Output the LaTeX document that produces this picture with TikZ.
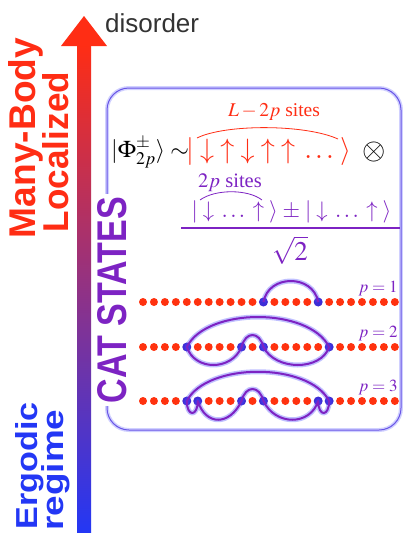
\documentclass[tikz,border=0pt]{standalone}
\usepackage{mathptmx}
\usepackage{fontspec}
\setmainfont{Liberation Serif}
\setsansfont{Liberation Sans}
\usepackage{graphicx}
\definecolor{redc}{RGB}{255,45,20}
\definecolor{purp}{RGB}{125,35,195}
\definecolor{bluec}{RGB}{35,55,245}
\definecolor{dotred}{RGB}{255,50,15}
\definecolor{dotblue}{RGB}{60,45,215}
\definecolor{arrmid}{RGB}{140,25,180}
\definecolor{boxc}{RGB}{105,85,230}
\tikzset{
  dot/.style={circle,inner sep=0pt,minimum size=8pt,fill=dotred},
  bdot/.style={circle,inner sep=0pt,minimum size=9pt,fill=dotblue},
  glow/.style={line width=5pt,draw=blue!70!white,opacity=0.35,line join=round},
  loopline/.style={line width=2pt,draw=purp,line join=round},
  plab/.style={text=purp,font=\fontsize{17}{20}\selectfont},
  bigtext/.style={rotate=90,anchor=base,inner sep=0pt,font=\bfseries\sffamily},
}
\begin{document}
\begin{tikzpicture}[x=1pt,y=-1pt]
\useasboundingbox (0,0) rectangle (403,533);
\fill[white] (0,0) rectangle (403,533);
% arrow
\shade[top color=redc, middle color=arrmid, bottom color=bluec] (77,44) rectangle (91,533);
\fill[redc] (61,46) -- (84,16) -- (107,46) -- cycle;
\node[anchor=base west, inner sep=0pt, text=black!80, font=\sffamily\fontsize{26}{30}\selectfont] (dis) at (105,32) {disorder};
% side labels
\node[bigtext, text=redc] (mb) at (35,138) {\resizebox{200pt}{27pt}{Many-Body}};
\node[bigtext, text=redc] (loc) at (68,152) {\resizebox{160pt}{26pt}{Localized}};
\node[bigtext, text=bluec] (erg) at (37,466) {\resizebox{127pt}{22pt}{Ergodic}};
\node[bigtext, text=bluec] (reg) at (63,470) {\resizebox{121pt}{22pt}{regime}};
% box
\draw[line width=4pt, draw=blue!60!white, opacity=0.3, rounded corners=22pt] (107,88) rectangle (401,430);
\draw[line width=1pt, draw=boxc, rounded corners=22pt] (107,88) rectangle (401,430);
\node[rotate=90, fill=white, inner sep=3pt, text=purp, font=\bfseries\sffamily] (cat) at (112.5,300) {\resizebox{206pt}{29pt}{CAT STATES}};
% equation
\node[anchor=base west, inner sep=0pt, font=\fontsize{24}{28}\selectfont] (phi) at (111,157) {$|\Phi^{\pm}_{2p}\rangle\sim$};
\node[anchor=base west, inner sep=0pt, text=redc, font=\fontsize{28}{32}\selectfont] (ket) at (186,158) {$|\;{\downarrow}\;{\uparrow}\;{\downarrow}\;{\uparrow}\;{\uparrow}\;\ldots\;\rangle$};
\node[inner sep=0pt, font=\fontsize{30}{34}\selectfont] (otimes) at (374,152) {$\otimes$};
\node[text=redc, inner sep=0pt, font=\fontsize{19.5}{23}\selectfont] (lab1) at (274,112) {$L-2p$ sites};
\draw[redc, line width=0.8pt] (197,138) .. controls (225,124) and (305,124) .. (338,139);
\node[text=purp, inner sep=0pt, font=\fontsize{20.5}{24}\selectfont] (lab2) at (230,183) {$2p$ sites};
\draw[purp, line width=0.8pt] (200,200) .. controls (215,189) and (248,189) .. (262,200);
\node[text=purp, inner sep=0pt, font=\fontsize{22.5}{26}\selectfont] (num) at (291.5,212) {$|\;{\downarrow}\;\ldots\;{\uparrow}\;\rangle\;{\pm}\;|\;{\downarrow}\;\ldots\;{\uparrow}\;\rangle$};
\draw[purp, line width=1.4pt] (181,228) -- (400,228);
\node[text=purp, inner sep=0pt, font=\fontsize{27}{31}\selectfont] (den) at (290,250) {$\sqrt{2}$};
% chains
\foreach \r/\y in {1/302,2/347,3/401}{
  \foreach \i in {0,...,23}{
    \node[dot] (d\r-\i) at ({143+10.95*\i},\y) {};
  }
}
\foreach \r/\i in {1/11,1/16,2/4,2/9,2/11,2/17,3/4,3/5,3/9,3/11,3/16,3/17}{
  \node[bdot] (b\r-\i) at (d\r-\i) {};
}
\foreach \s in {glow,loopline}{
\draw[\s] (d1-11.center) .. controls +(5,-28) and +(-5,-28) .. (d1-16.center);
\draw[\s] (d2-4.center) .. controls +(20,-40) and +(-20,-40) .. (d2-17.center)
  .. controls +(-8,24) and +(12,24) .. (d2-11.center)
  .. controls +(-4,-16) and +(4,-16) .. (d2-9.center)
  .. controls +(-10,24) and +(8,24) .. (d2-4.center) -- cycle;
\draw[\s] (d3-4.center) .. controls +(20,-39) and +(-20,-39) .. (d3-17.center)
  .. controls +(0,16) and +(0,16) .. (d3-16.center)
  .. controls +(-8,25) and +(12,25) .. (d3-11.center)
  .. controls +(-4,-16) and +(4,-16) .. (d3-9.center)
  .. controls +(-12,25) and +(8,25) .. (d3-5.center)
  .. controls +(0,16) and +(0,16) .. (d3-4.center) -- cycle;
}
\node[plab] (p1) at (378,289) {$p=1$};
\node[plab] (p2) at (378,334) {$p=2$};
\node[plab] (p3) at (378,388) {$p=3$};
\end{tikzpicture}
\end{document}
